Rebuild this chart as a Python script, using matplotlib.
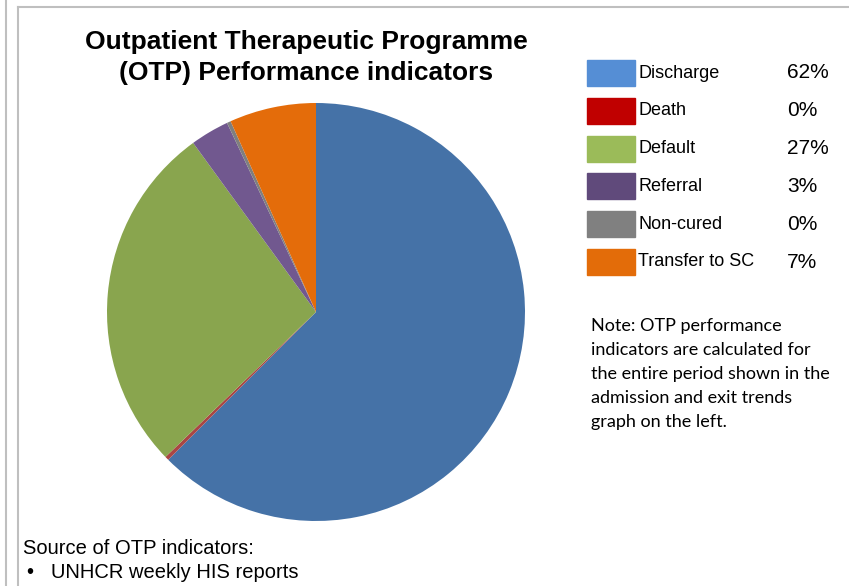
import matplotlib
matplotlib.use("Agg")
import matplotlib.pyplot as plt
from matplotlib.patches import Rectangle
from matplotlib.lines import Line2D

W, H = 849, 586

# slice data (clockwise from 12 o'clock)
categories = ["Discharge", "Death", "Default", "Referral", "Non-cured", "Transfer to SC"]
values = [62.5, 0.3, 27.2, 3.0, 0.3, 6.7]
pct_labels = ["62%", "0%", "27%", "3%", "0%", "7%"]
pie_colors = ["#4572A7", "#AA4643", "#89A54E", "#71588F", "#7F7F7F", "#E46C0A"]
legend_colors = ["#558ED5", "#C00000", "#9BBB59", "#604A7B", "#808080", "#E36C09"]

note_lines = ["Note: OTP performance",
              "indicators are calculated for",
              "the entire period shown in the",
              "admission and exit trends",
              "graph on the left."]


def fx(px):
    return px / W


def fy(py):
    return 1 - py / H


plt.rcParams['font.family'] = ['Liberation Sans', 'DejaVu Sans']
fig = plt.figure(figsize=(W / 100, H / 100), dpi=100)

# frame lines
border = "#BFBFBF"
fig.add_artist(Line2D([fx(6), fx(6)], [0, 1], color=border, lw=1.5))
fig.add_artist(Line2D([fx(18), fx(18)], [0, fy(7)], color=border, lw=1.5))
fig.add_artist(Line2D([fx(18), 1], [fy(7), fy(7)], color=border, lw=1.5))

# pie
cx, cy, r = 316, 312, 209
ax = fig.add_axes([fx(cx - r), fy(cy + r), (2 * r) / W, (2 * r) / H])
ax.pie(values, colors=pie_colors, startangle=90, counterclock=False,
       wedgeprops=dict(linewidth=0))
ax.set_xlim(-1, 1)
ax.set_ylim(-1, 1)
ax.set_aspect("auto")
ax.axis("off")

fig.text(fx(306), fy(42), "Outpatient Therapeutic Programme", ha="center", va="center",
         fontsize=19, fontweight="bold")
fig.text(fx(306), fy(73), "(OTP) Performance indicators", ha="center", va="center",
         fontsize=19, fontweight="bold")

# legend table
for i, (lab, pct, col) in enumerate(zip(categories, pct_labels, legend_colors)):
    yc = 73 + i * 37.8
    fig.add_artist(Rectangle((fx(587), fy(yc + 13)), 48 / W, 26 / H, color=col,
                             transform=fig.transFigure))
    fig.text(fx(638), fy(yc), lab, ha="left", va="center", fontsize=13)
    fig.text(fx(787), fy(yc), pct, ha="left", va="center", fontsize=15)

for i, line in enumerate(note_lines):
    fig.text(fx(591), fy(326 + i * 24), line, ha="left", va="center", fontsize=13,
             family=['Lato', 'DejaVu Sans'])

fig.text(fx(23), fy(549), "Source of OTP indicators:", ha="left", va="center", fontsize=14.5)
fig.text(fx(26), fy(572), "\u2022", ha="left", va="center", fontsize=14.5)
fig.text(fx(51), fy(572), "UNHCR weekly HIS reports", ha="left", va="center", fontsize=14.5)

fig.savefig("out.png", dpi=100)
